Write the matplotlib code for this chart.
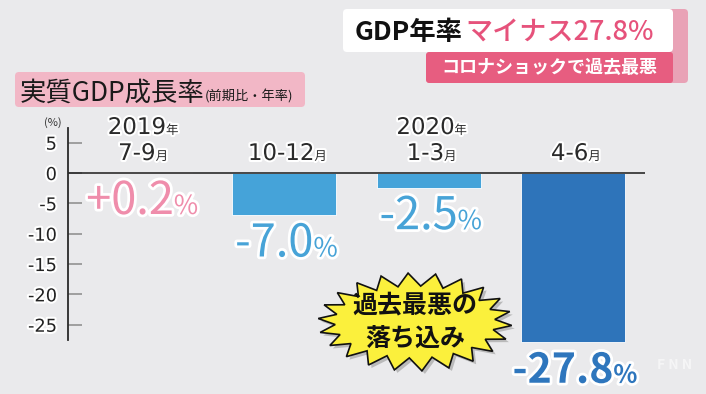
import numpy as np
import matplotlib
matplotlib.use("Agg")
import matplotlib.pyplot as plt
from matplotlib.patches import FancyBboxPatch, Polygon
import matplotlib.patheffects as pe

plt.rcParams['font.family'] = ['Noto Sans CJK JP', 'DejaVu Sans']
plt.rcParams['axes.unicode_minus'] = False

# ---- data ----
years = ["2019", "", "2020", ""]
quarters = ["7-9", "10-12", "1-3", "4-6"]
values = [0.2, -7.0, -2.5, -27.8]
value_labels = ["+0.2", "-7.0", "-2.5", "-27.8"]
yticks = [5, 0, -5, -10, -15, -20, -25]

# ---- styles ----
BG = "#eaeaec"
bar_colors = ["#e07a96", "#45a3d9", "#45a3d9", "#2e74ba"]
text_colors = ["#ef8dab", "#47a3d7", "#47a3d7", "#2e76bd"]
bold_flags = [False, False, False, True]
DIGIT_FONT = ['DejaVu Sans', 'Noto Sans CJK JP']

W, H = 706, 394
fig = plt.figure(figsize=(W / 100, H / 100), dpi=100)
fig.patch.set_facecolor(BG)

px_per_unit = 6.07
zero_px = 173
ax_top_px, ax_bot_px = 120, 345
ax = fig.add_axes([68 / W, (H - ax_bot_px) / H, 577 / W, (ax_bot_px - ax_top_px) / H])
ax.set_facecolor("none")
ax.set_xlim(-0.5, len(values) - 0.5)
ax.set_ylim(-(ax_bot_px - zero_px) / px_per_unit, (zero_px - ax_top_px) / px_per_unit)

x = np.arange(len(values))
ax.bar(x, values, width=0.72, color=bar_colors, edgecolor="white", linewidth=0.6, zorder=3)
ax.axhline(0, color="#2a2a2a", lw=1.2, zorder=4)

for s in ["top", "right", "bottom"]:
    ax.spines[s].set_visible(False)
ax.spines["left"].set_color("#2a2a2a")
ax.spines["left"].set_linewidth(1.3)
ax.spines["left"].set_bounds(-27.5, 7.4)
ax.set_xticks([])
ax.set_yticks(yticks)
ax.set_yticklabels([str(t) for t in yticks])
ax.tick_params(axis="y", direction="in", length=10, width=1.1, color="#8a8a8a",
               pad=8, labelsize=12.8, labelcolor="#222222")
for lab in ax.get_yticklabels():
    lab.set_family(DIGIT_FONT)
    lab.set_path_effects([pe.withStroke(linewidth=3, foreground="white")])

# overlay in pixel coordinates for annotations
ov = fig.add_axes([0, 0, 1, 1], zorder=10)
ov.set_xlim(0, W)
ov.set_ylim(H, 0)
ov.axis("off")
ov.set_facecolor("none")

renderer = fig.canvas.get_renderer()


def to_px(xd, yd):
    dx, dy = ax.transData.transform((xd, yd))
    return dx, H - dy


def rich(parts, xc, yb, ha="center", stroke=0, zorder=12, family=None):
    texts = []
    for (s, size, color, weight) in parts:
        t = ov.text(0, yb, s, fontsize=size, color=color, fontweight=weight,
                    ha="left", va="baseline", zorder=zorder)
        if family is not None and s.isascii():
            t.set_family(family)
        if stroke:
            t.set_path_effects([pe.withStroke(linewidth=stroke, foreground="white")])
        texts.append(t)
    widths = [t.get_window_extent(renderer).width for t in texts]
    total = sum(widths)
    if ha == "center":
        x0 = xc - total / 2
    elif ha == "left":
        x0 = xc
    else:
        x0 = xc - total
    for t, w in zip(texts, widths):
        t.set_x(x0)
        x0 += w
    return texts


# category labels
for i in range(len(values)):
    cx, zy = to_px(i, 0)
    if years[i]:
        rich([(years[i], 16.5, "#2a2a2a", "normal"), ("年", 9, "#2a2a2a", "normal")],
             cx + 3, zy - 39, stroke=3, family=DIGIT_FONT)
    rich([(quarters[i], 16.5, "#2a2a2a", "normal"), ("月", 9, "#2a2a2a", "normal")],
         cx + 3, zy - 13, stroke=3, family=DIGIT_FONT)

# value labels
for i, v in enumerate(values):
    cx, by = to_px(i, min(0, v))
    if bold_flags[i]:
        parts = [(value_labels[i], 29.5, text_colors[i], "bold"), ("%", 18, text_colors[i], "bold")]
    else:
        parts = [(value_labels[i], 32.5, text_colors[i], "normal"), ("%", 19, text_colors[i], "normal")]
    rich(parts, cx + 2, by + 41, stroke=4)

# (%) unit
ov.text(53, 123, "(%)", fontsize=8, color="#333333", ha="center", va="center")

# title box
ov.add_patch(FancyBboxPatch((15, 72), 290, 35, boxstyle="round,pad=0,rounding_size=4",
                            fc="#f2b7c6", ec="none", zorder=11))
rich([("実質GDP成長率", 19, "#1a1a1a", "normal"), ("(前期比・年率)", 9.5, "#1a1a1a", "normal")],
     20, 101, ha="left")

# top-right banner
ov.add_patch(FancyBboxPatch((660, 9), 28, 74, boxstyle="round,pad=0,rounding_size=4",
                            fc="#e9a2b6", ec="none", zorder=11))
ov.add_patch(FancyBboxPatch((343, 9), 330, 43, boxstyle="round,pad=0,rounding_size=4",
                            fc="white", ec="none", zorder=11))
ov.add_patch(FancyBboxPatch((426, 52), 247, 31, boxstyle="round,pad=0,rounding_size=3",
                            fc="#e75d80", ec="none", zorder=11))
rich([("GDP年率", 19, "#111111", "bold"), (" ", 6, "#111111", "normal"),
      ("マイナス27.8%", 19.5, "#e6527b", "medium")], 355, 40, ha="left")
ov.text(549, 67.5, "コロナショックで過去最悪", fontsize=13, color="white",
        fontweight="bold", ha="center", va="center", zorder=12)

# starburst
cxs, cys = 415, 322
n = 22
ang = np.linspace(0, 2 * np.pi, 2 * n + 1)[:-1] + np.pi / (2 * n)
rx = np.where(np.arange(2 * n) % 2 == 0, 97, 80)
ry = np.where(np.arange(2 * n) % 2 == 0, 49, 36)
pts = np.column_stack([cxs + rx * np.cos(ang), cys + ry * np.sin(ang)])
ov.add_patch(Polygon(pts + [3, 3], closed=True, fc="#9a9a9a", ec="none", alpha=0.6, zorder=11))
ov.add_patch(Polygon(pts, closed=True, fc="#fbf03c", ec="#111111", lw=1.2, zorder=11.5))
ov.text(cxs, 305, "過去最悪の", fontsize=18, fontweight="bold", color="#111111",
        ha="center", va="center", zorder=12)
ov.text(cxs, 339, "落ち込み", fontsize=18, fontweight="bold", color="#111111",
        ha="center", va="center", zorder=12)

# watermark
ov.text(675, 365, "F N N", fontsize=10, fontweight="bold", color="white", alpha=0.55,
        ha="center", va="center", zorder=12)

fig.savefig("out.png", dpi=100, facecolor=BG)
